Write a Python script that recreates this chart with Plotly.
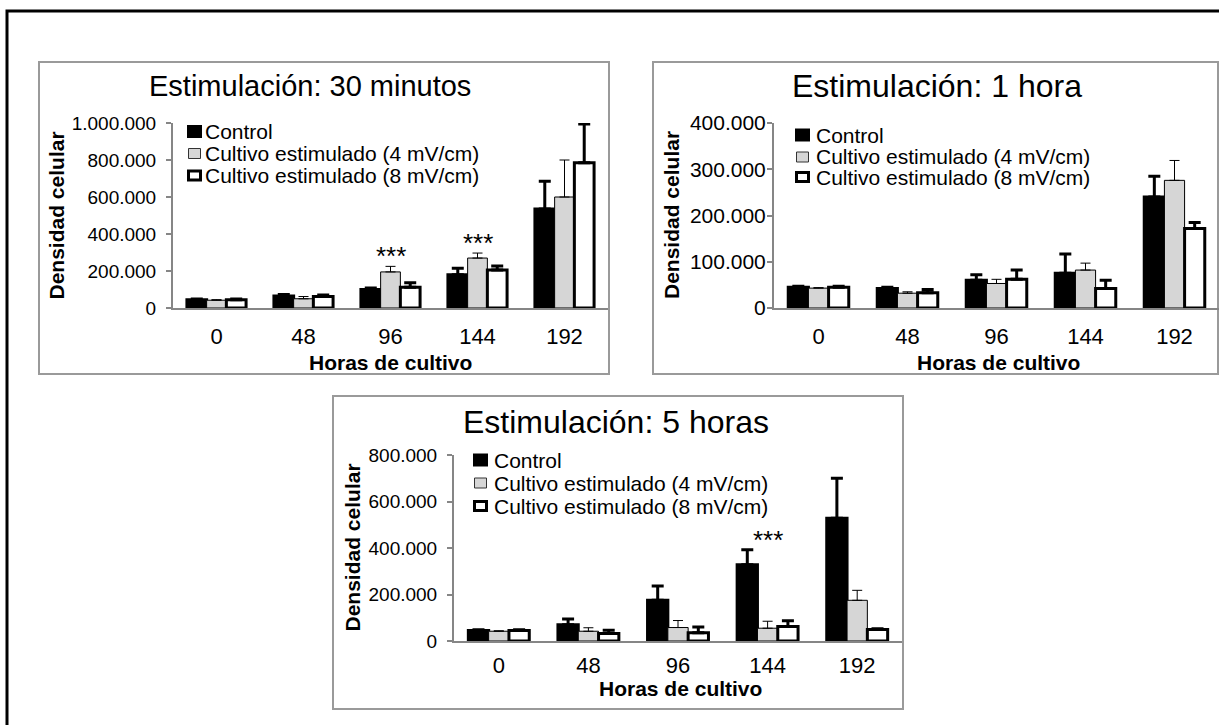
import plotly.graph_objects as go

W, H = 1219, 725
FONT = "Liberation Sans, Arial, sans-serif"

hours = ["0", "48", "96", "144", "192"]
series_names = ["Control", "Cultivo estimulado (4 mV/cm)", "Cultivo estimulado (8 mV/cm)"]
titles = ["Estimulación: 30 minutos", "Estimulación: 1 hora", "Estimulación: 5 horas"]
y_title = "Densidad celular"
x_title = "Horas de cultivo"
signif_mark = "***"

# Estimulación: 30 minutos
control_30min = [45000, 65000, 100000, 180000, 535000]
control_30min_err = [4000, 8000, 8000, 35000, 150000]
e4_30min = [42000, 50000, 195000, 270000, 600000]
e4_30min_err = [3000, 12000, 30000, 27000, 200000]
e8_30min = [45000, 62000, 112000, 205000, 785000]
e8_30min_err = [4000, 8000, 25000, 22000, 210000]
signif_30min = ["96", "144"]

# Estimulación: 1 hora
control_1h = [45000, 42000, 60000, 75000, 240000]
control_1h_err = [2000, 3000, 12000, 42000, 45000]
e4_1h = [43000, 32000, 53000, 82000, 276000]
e4_1h_err = [1000, 3000, 9000, 15000, 43000]
e8_1h = [45000, 33000, 62000, 42000, 172000]
e8_1h_err = [2000, 7000, 20000, 18000, 13000]
signif_1h = []

# Estimulación: 5 horas
control_5h = [45000, 70000, 175000, 328000, 528000]
control_5h_err = [3000, 25000, 62000, 65000, 172000]
e4_5h = [42000, 42000, 58000, 55000, 175000]
e4_5h_err = [2000, 15000, 30000, 30000, 43000]
e8_5h = [45000, 32000, 35000, 62000, 50000]
e8_5h_err = [3000, 14000, 25000, 25000, 3000]
signif_5h = ["144"]

# y-axis ticks (values and Spanish-formatted labels)
yticks_30min = [0, 200000, 400000, 600000, 800000, 1000000]
yticklabels_30min = ["0", "200.000", "400.000", "600.000", "800.000", "1.000.000"]
yticks_1h = [0, 100000, 200000, 300000, 400000]
yticklabels_1h = ["0", "100.000", "200.000", "300.000", "400.000"]
yticks_5h = [0, 200000, 400000, 600000, 800000]
yticklabels_5h = ["0", "200.000", "400.000", "600.000", "800.000"]

GRAY_FILL = "#d6d6d6"
AXIS_GRAY = "#868686"
BORDER_GRAY = "#9a9a9a"


def fx(px):
    return px / W


def fy(py):
    return 1 - py / H


panels = [
    dict(series=[(control_30min, control_30min_err), (e4_30min, e4_30min_err), (e8_30min, e8_30min_err)],
         yticks=yticks_30min, yticklabels=yticklabels_30min, signif=signif_30min,
         box=(39, 62, 609, 374), plot=(173, 608, 123, 308), title_size=29,
         ytick_size=19, ytick_standoff=6, xtick_standoff=8,
         title_xy=(310, 86), ytitle_xy=(56, 215.5), xtitle_xy=(390, 362),
         legend_x=187, legend_rows=(131.5, 153.5, 175.5), legend_text_x=203),
    dict(series=[(control_1h, control_1h_err), (e4_1h, e4_1h_err), (e8_1h, e8_1h_err)],
         yticks=yticks_1h, yticklabels=yticklabels_1h, signif=signif_1h,
         box=(653, 62, 1218, 374), plot=(774, 1219, 123, 308), title_size=32,
         ytick_size=21, ytick_standoff=-3, xtick_standoff=8,
         title_xy=(937, 86), ytitle_xy=(671.5, 215.5), xtitle_xy=(998, 362),
         legend_x=795, legend_rows=(135, 157, 177), legend_text_x=814),
    dict(series=[(control_5h, control_5h_err), (e4_5h, e4_5h_err), (e8_5h, e8_5h_err)],
         yticks=yticks_5h, yticklabels=yticklabels_5h, signif=signif_5h,
         box=(333, 396, 903, 709), plot=(454, 902, 455, 641), title_size=32,
         ytick_size=19, ytick_standoff=6, xtick_standoff=4,
         title_xy=(616, 422), ytitle_xy=(351.5, 548), xtitle_xy=(681, 688),
         legend_x=473, legend_rows=(460, 483, 506), legend_text_x=492),
]

# fill, outline width, error-bar thickness, error cap half-width
styles = [
    dict(fill="black", lw=3, et=3, ew=6),
    dict(fill=GRAY_FILL, lw=1, et=1, ew=5),
    dict(fill="white", lw=3, et=3, ew=6),
]

fig = go.Figure()
shapes = []
annotations = []

# outer frame
shapes.append(dict(type="rect", xref="paper", yref="paper",
                   x0=fx(7), x1=fx(1240), y0=fy(11), y1=fy(745),
                   line=dict(color="black", width=3), fillcolor="rgba(0,0,0,0)", layer="below"))

for i, p in enumerate(panels):
    n = "" if i == 0 else str(i + 1)
    xa, ya = "x" + n, "y" + n
    for (vals, errs), st, name in zip(p["series"], styles, series_names):
        fig.add_trace(go.Bar(
            x=hours, y=vals, name=name, xaxis=xa, yaxis=ya, showlegend=False,
            marker=dict(color=st["fill"], line=dict(color="black", width=st["lw"])),
            error_y=dict(type="data", array=errs, arrayminus=[0] * len(errs), symmetric=False,
                         color="black", thickness=st["et"], width=st["ew"]),
        ))

    px0, px1, py_top, py_bot = p["plot"]
    fig.update_layout(**{
        "xaxis" + n: dict(domain=[fx(px0), fx(px1)], anchor=ya, type="category", automargin=False,
                          categoryorder="array", categoryarray=hours, range=[-0.5, len(hours) - 0.5],
                          showline=True, linecolor=AXIS_GRAY, linewidth=2, ticks="",
                          showgrid=False, zeroline=False, fixedrange=True,
                          tickfont=dict(size=22, color="black"), ticklabelstandoff=p["xtick_standoff"]),
        "yaxis" + n: dict(domain=[fy(py_bot), fy(py_top)], anchor=xa, automargin=False,
                          range=[0, p["yticks"][-1]], tickvals=p["yticks"], ticktext=p["yticklabels"],
                          showline=True, linecolor=AXIS_GRAY, linewidth=2, ticks="outside",
                          ticklen=5, tickcolor=AXIS_GRAY, tickwidth=1.5,
                          showgrid=False, zeroline=False, fixedrange=True,
                          tickfont=dict(size=p["ytick_size"], color="black"),
                          ticklabelstandoff=p["ytick_standoff"]),
    })

    # panel frame
    bx0, by0, bx1, by1 = p["box"]
    shapes.append(dict(type="rect", xref="paper", yref="paper",
                       x0=fx(bx0), x1=fx(bx1), y0=fy(by1), y1=fy(by0),
                       line=dict(color=BORDER_GRAY, width=2), fillcolor="rgba(0,0,0,0)", layer="below"))

    # titles
    tx, ty = p["title_xy"]
    annotations.append(dict(text=titles[i], x=fx(tx), y=fy(ty), xref="paper", yref="paper",
                            xanchor="center", yanchor="middle", showarrow=False,
                            font=dict(size=p["title_size"], color="black")))
    yx, yy = p["ytitle_xy"]
    annotations.append(dict(text="<b>" + y_title + "</b>", x=fx(yx), y=fy(yy), xref="paper", yref="paper",
                            xanchor="center", yanchor="middle", textangle=-90, showarrow=False,
                            font=dict(size=21, color="black")))
    xx, xy = p["xtitle_xy"]
    annotations.append(dict(text="<b>" + x_title + "</b>", x=fx(xx), y=fy(xy), xref="paper", yref="paper",
                            xanchor="center", yanchor="middle", showarrow=False,
                            font=dict(size=21, color="black")))

    # significance marks above the tallest bar of the group (x given as category index)
    for cat in p["signif"]:
        k = hours.index(cat)
        top = max(v[k] + e[k] for v, e in p["series"])
        annotations.append(dict(text=signif_mark, x=k, y=top, xref=xa, yref=ya,
                                xanchor="center", yanchor="middle", showarrow=False, yshift=10,
                                font=dict(size=26, color="black")))

    # legend: swatches and labels
    lx = p["legend_x"]
    for row, name, kind in zip(p["legend_rows"], series_names, ("control", "e4", "e8")):
        if kind == "control":
            shapes.append(dict(type="rect", xref="paper", yref="paper",
                               x0=fx(lx), x1=fx(lx + 15), y0=fy(row + 6.5), y1=fy(row - 6.5),
                               fillcolor="black", line=dict(width=0)))
        elif kind == "e4":
            shapes.append(dict(type="rect", xref="paper", yref="paper",
                               x0=fx(lx + 1.5), x1=fx(lx + 13.5), y0=fy(row + 5), y1=fy(row - 5),
                               fillcolor=GRAY_FILL, line=dict(color="#333333", width=1)))
        else:
            shapes.append(dict(type="rect", xref="paper", yref="paper",
                               x0=fx(lx + 1.5), x1=fx(lx + 13.5), y0=fy(row + 4.5), y1=fy(row - 4.5),
                               fillcolor="white", line=dict(color="black", width=3)))
        annotations.append(dict(text=name, x=fx(p["legend_text_x"]), y=fy(row), xref="paper", yref="paper",
                                xanchor="left", yanchor="middle", showarrow=False,
                                font=dict(size=21, color="black")))

fig.update_layout(
    width=W, height=H, margin=dict(l=0, r=0, t=0, b=0, autoexpand=False),
    paper_bgcolor="white", plot_bgcolor="rgba(0,0,0,0)",
    font=dict(family=FONT, color="black"),
    barmode="group", bargap=0.32, bargroupgap=0,
    showlegend=False, shapes=shapes, annotations=annotations,
)

# page body without default margin so the figure fills the window exactly
fig.write_html("out.html", config={"displayModeBar": False},
               post_script="document.body.style.margin='0';document.body.style.overflow='hidden';")
